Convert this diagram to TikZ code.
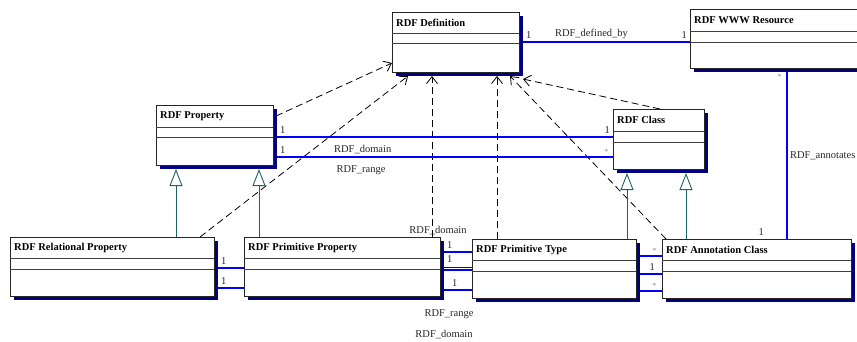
\documentclass[tikz,border=0pt]{standalone}
\usepackage{fontspec}
\setmainfont{Liberation Serif}
\usetikzlibrary{arrows.meta,positioning,shadows,calc}
\definecolor{navyshadow}{RGB}{0,0,128}
\definecolor{genline}{RGB}{30,100,100}
\definecolor{assocblue}{RGB}{0,0,255}

\begin{document}
\begin{tikzpicture}[x=1pt, y=-1pt,
    every node/.style={font=\fontsize{10.5}{12}\selectfont},
    umlclass/.style={draw=black!85, fill=white, line width=0.9pt, anchor=north west,
      inner sep=0pt, outer sep=0pt,
      drop shadow={shadow xshift=4pt, shadow yshift=-4pt, fill=navyshadow, opacity=1}},
    ctitle/.style={anchor=west, inner sep=1pt, font=\fontsize{10.5}{12}\selectfont\bfseries},
    cmp/.style={draw=black!75, line width=0.8pt},
    dep/.style={dash pattern=on 7pt off 4pt, line width=0.8pt, -{Straight Barb[length=7pt,width=11pt]}},
    gen/.style={genline, line width=0.9pt, -{Triangle[open, length=17pt, width=13pt]}},
    assoc/.style={draw=assocblue, line width=1.1pt},
    lbl/.style={inner sep=2.5pt, text=black!85},
    star/.style={inner sep=2pt, text=black!45, font=\fontsize{8}{9}\selectfont}]
    \useasboundingbox (0,0) rectangle (857,341);

    % Classes
    \node[umlclass, minimum width=127pt, minimum height=60pt] (def) at (392,12) {};
    \node[ctitle] (def-t) at ([shift={(3pt,-11pt)}]def.north west) {RDF Definition};
    \draw[cmp] ([yshift=-21pt]def.north west) -- ([yshift=-21pt]def.north east);
    \draw[cmp] ([yshift=-31pt]def.north west) -- ([yshift=-31pt]def.north east);

    \node[umlclass, minimum width=172pt, minimum height=59pt] (www) at (690,9) {};
    \node[ctitle] (www-t) at ([shift={(3pt,-11pt)}]www.north west) {RDF WWW Resource};
    \draw[cmp] ([yshift=-22pt]www.north west) -- ([yshift=-22pt]www.north east);
    \draw[cmp] ([yshift=-33pt]www.north west) -- ([yshift=-33pt]www.north east);

    \node[umlclass, minimum width=117pt, minimum height=60pt] (prop) at (156,105) {};
    \node[ctitle] (prop-t) at ([shift={(3pt,-11pt)}]prop.north west) {RDF Property};
    \draw[cmp] ([yshift=-22pt]prop.north west) -- ([yshift=-22pt]prop.north east);
    \draw[cmp] ([yshift=-32pt]prop.north west) -- ([yshift=-32pt]prop.north east);

    \node[umlclass, minimum width=91pt, minimum height=60pt] (cls) at (613,109) {};
    \node[ctitle] (cls-t) at ([shift={(3pt,-11pt)}]cls.north west) {RDF Class};
    \draw[cmp] ([yshift=-22pt]cls.north west) -- ([yshift=-22pt]cls.north east);
    \draw[cmp] ([yshift=-33pt]cls.north west) -- ([yshift=-33pt]cls.north east);

    \node[umlclass, minimum width=204pt, minimum height=59pt] (rel) at (10,237) {};
    \node[ctitle] (rel-t) at ([shift={(3pt,-11pt)}]rel.north west) {RDF Relational Property};
    \draw[cmp] ([yshift=-21pt]rel.north west) -- ([yshift=-21pt]rel.north east);
    \draw[cmp] ([yshift=-32pt]rel.north west) -- ([yshift=-32pt]rel.north east);

    \node[umlclass, minimum width=196pt, minimum height=59pt] (pprop) at (244,237) {};
    \node[ctitle] (pprop-t) at ([shift={(3pt,-11pt)}]pprop.north west) {RDF Primitive Property};
    \draw[cmp] ([yshift=-21pt]pprop.north west) -- ([yshift=-21pt]pprop.north east);
    \draw[cmp] ([yshift=-32pt]pprop.north west) -- ([yshift=-32pt]pprop.north east);

    \node[umlclass, minimum width=164pt, minimum height=59pt] (ptype) at (472,239) {};
    \node[ctitle] (ptype-t) at ([shift={(3pt,-11pt)}]ptype.north west) {RDF Primitive Type};
    \draw[cmp] ([yshift=-21pt]ptype.north west) -- ([yshift=-21pt]ptype.north east);
    \draw[cmp] ([yshift=-32pt]ptype.north west) -- ([yshift=-32pt]ptype.north east);

    \node[umlclass, minimum width=189pt, minimum height=59pt] (anno) at (662,239) {};
    \node[ctitle] (anno-t) at ([shift={(3pt,-11pt)}]anno.north west) {RDF Annotation Class};
    \draw[cmp] ([yshift=-21pt]anno.north west) -- ([yshift=-21pt]anno.north east);
    \draw[cmp] ([yshift=-32pt]anno.north west) -- ([yshift=-32pt]anno.north east);

    % Dependencies on RDF Definition
    \draw[dep] ([shift={(3pt,-11pt)}]prop.north east) -- ([yshift=-51pt]def.north west);
    \draw[dep] ([xshift=-14pt]rel.north east) -- ([shift={(16pt,-4pt)}]def.south west);
    \draw[dep] ([xshift=188pt]pprop.north west) -- ([shift={(40pt,-4pt)}]def.south west);
    \draw[dep] ([xshift=25pt]ptype.north west) -- ([shift={(105pt,-4pt)}]def.south west);
    \draw[dep] ([xshift=4pt]anno.north west) -- ([shift={(118pt,-4pt)}]def.south west);
    \draw[dep] ([xshift=47pt]cls.north west) -- ([shift={(4pt,-7pt)}]def.south east);

    % Generalizations
    \draw[gen] ([xshift=166pt]rel.north west) -- ([shift={(20pt,-4pt)}]prop.south west);
    \draw[gen] ([xshift=15pt]pprop.north west) -- ([shift={(103pt,-4pt)}]prop.south west);
    \draw[gen] ([xshift=155pt]ptype.north west) -- ([shift={(14pt,-4pt)}]cls.south west);
    \draw[gen] ([xshift=24pt]anno.north west) -- ([shift={(73pt,-4pt)}]cls.south west);

    % Associations
    \draw[assoc] ([shift={(4pt,-30pt)}]def.north east) -- ([yshift=-33pt]www.north west)
      node[lbl, pos=0, above right] (def-m) {1}
      node[lbl, pos=0.41, above] (defby) {RDF\_defined\_by}
      node[lbl, pos=1, above left] (www-m) {1};
    \draw[assoc] ([shift={(97pt,-63pt)}]www.north west) -- ([xshift=125pt]anno.north west)
      node[star, pos=0, below left, xshift=-3pt] (www-s) {*}
      node[lbl, pos=0.5, right] (annot) {RDF\_annotates}
      node[lbl, pos=1, above left, xshift=-20pt] (anno-m) {1};

    \draw[assoc] ([shift={(4pt,-32pt)}]prop.north east) -- ([yshift=-28pt]cls.north west)
      node[lbl, pos=0, above right] (prop-m1) {1}
      node[lbl, pos=1, above left] (cls-m1) {1};
    \draw[assoc] ([shift={(4pt,-52pt)}]prop.north east) -- ([yshift=-48pt]cls.north west)
      node[lbl, pos=0, above right] (prop-m2) {1}
      node[lbl, pos=0.255, above] (pdom) {RDF\_domain}
      node[lbl, pos=0.25, below=6pt] (prng) {RDF\_range}
      node[star, pos=1, above left, xshift=-2pt] (cls-s) {*};

    \draw[assoc] ([shift={(4pt,-31pt)}]rel.north east) -- ([yshift=-31pt]pprop.north west)
      node[lbl, pos=0, above right] (rel-m1) {1};
    \draw[assoc] ([shift={(4pt,-51pt)}]rel.north east) -- ([yshift=-51pt]pprop.north west)
      node[lbl, pos=0, above right] (rel-m2) {1};

    \draw[assoc] ([shift={(4pt,-15pt)}]pprop.north east) -- ([yshift=-13pt]ptype.north west)
      node[lbl, pos=0, above right] (pp-m1) {1}
      node[lbl, pos=0, above=14pt, xshift=-6pt] (ppdom1) {RDF\_domain};
    \draw[assoc] ([shift={(4pt,-30.5pt)}]pprop.north east) -- ([yshift=-28.5pt]ptype.north west)
      node[lbl, pos=0, above right, yshift=2pt] (pp-m2) {1};
    \draw[assoc] ([shift={(4pt,-33pt)}]pprop.north east) -- ([yshift=-31pt]ptype.north west);
    \draw[assoc] ([shift={(4pt,-53pt)}]pprop.north east) -- ([yshift=-51pt]ptype.north west)
      node[lbl, pos=0, above right, xshift=5pt] (pp-m3) {1}
      node[lbl, pos=0.5, below=17pt, xshift=-9pt] (pprng) {RDF\_range}
      node[lbl, pos=0.5, below=37pt, xshift=-14pt] (ppdom2) {RDF\_domain};

    \draw[assoc] ([shift={(4pt,-17pt)}]ptype.north east) -- ([yshift=-17pt]anno.north west)
      node[star, pos=1, above left, xshift=-3pt] (pt-s1) {*};
    \draw[assoc] ([shift={(4pt,-35pt)}]ptype.north east) -- ([yshift=-35pt]anno.north west)
      node[lbl, pos=1, above left, xshift=-4pt] (pt-m) {1};
    \draw[assoc] ([shift={(4pt,-52pt)}]ptype.north east) -- ([yshift=-52pt]anno.north west)
      node[star, pos=1, above left, xshift=-3pt] (pt-s2) {*};
  \end{tikzpicture}
\end{document}
